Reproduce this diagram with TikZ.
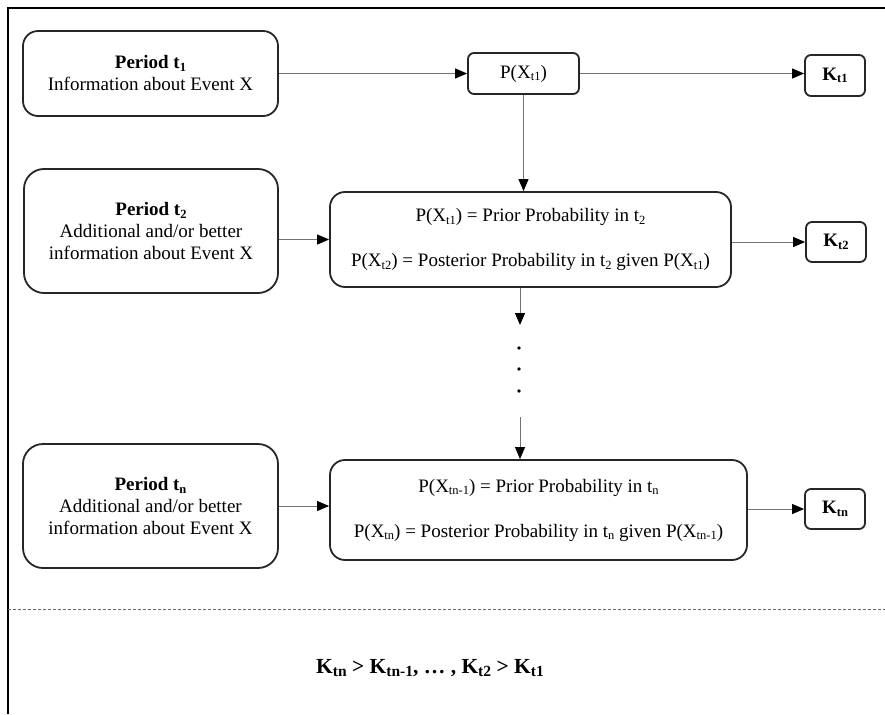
\documentclass[tikz,border=0pt]{standalone}
\usepackage{fontspec}
\setmainfont{Liberation Serif}
\usetikzlibrary{arrows.meta}
\newcommand{\sbs}[1]{\raisebox{-0.3ex}{\fontsize{12.5}{12.5}\selectfont #1}}
\newcommand{\sbb}[1]{\raisebox{-0.3ex}{\fontsize{15.5}{15.5}\selectfont #1}}
\begin{document}
\begin{tikzpicture}[x=1pt,y=-1pt,
  font=\fontsize{19}{22}\selectfont,
  box/.style={draw=black!85, line width=1.8pt, align=center, inner sep=0pt},
  bigbox/.style={box, rounded corners=15pt},
  smallbox/.style={box, rounded corners=6pt},
  arr/.style={draw=black!55, line width=1pt, -{Triangle[length=12pt,width=10pt,color=black]}},
  frame/.style={draw=black, line width=2.2pt},
  dot/.style={circle, fill=black, inner sep=0pt, minimum size=3.6pt}
]
\useasboundingbox (0,0) rectangle (885,714);
% frame
\draw[frame] (885,8) -- (8,8) -- (8,714);
\draw[black!60, line width=0.8pt, dash pattern=on 3pt off 2pt] (8,609) -- (885,609);

% left boxes
\node[bigbox, minimum width=255pt, minimum height=85pt] (A) at (150.5,73.5)
  {\textbf{Period t\sbs{1}}\\Information about Event X};
\node[bigbox, rounded corners=20pt, minimum width=254pt, minimum height=124pt] (B) at (151,231)
  {\textbf{Period t\sbs{2}}\\Additional and/or better\\information about Event X};
\node[bigbox, rounded corners=20pt, minimum width=255pt, minimum height=124pt] (E) at (150.5,506)
  {\textbf{Period t\sbs{n}}\\Additional and/or better\\information about Event X};

% middle boxes
\node[smallbox, minimum width=111pt, minimum height=41pt] (C) at (523.5,73.5) {P(X\sbs{t1})};
\node[bigbox, minimum width=401pt, minimum height=95pt] (D) at (530.5,239.5)
  {P(X\sbs{t1}) = Prior Probability in t\sbs{2}\\[23pt]P(X\sbs{t2}) = Posterior Probability in t\sbs{2} given P(X\sbs{t1})};
\node[bigbox, minimum width=417pt, minimum height=100pt] (F) at (538.5,510)
  {P(X\sbs{tn-1}) = Prior Probability in t\sbs{n}\\[23pt]P(X\sbs{tn}) = Posterior Probability in t\sbs{n} given P(X\sbs{tn-1})};

% K boxes
\node[smallbox, minimum width=60pt, minimum height=41pt] (K1) at (835,75.5) {\textbf{K\sbs{t1}}};
\node[smallbox, minimum width=60pt, minimum height=40pt] (K2) at (836,242) {\textbf{K\sbs{t2}}};
\node[smallbox, minimum width=60pt, minimum height=40pt] (Kn) at (835,509) {\textbf{K\sbs{tn}}};

% connectors
\draw[arr] (A.east) -- (A.east -| C.west);
\draw[arr] (C.east) -- (C.east -| K1.west);
\draw[arr] (C.south) -- (C.south |- D.north);
\draw[arr] (D.west -| B.east) -- (D.west);
\draw[arr] (D.east |- K2.west) -- (K2.west);

\coordinate (d1) at (520,325);
\coordinate (d2) at (520,417);
\draw[arr] (D.south -| d1) -- (d1);
\node[dot] (p1) at (519,348) {};
\node[dot] (p2) at (519,369) {};
\node[dot] (p3) at (519,391) {};
\draw[arr] (d2) -- (d2 |- F.north);

\draw[arr] (E.east) -- (E.east -| F.west);
\draw[arr] (F.east |- Kn.west) -- (Kn.west);

% result
\node[font=\fontsize{21.5}{24}\selectfont] (R) at (430,668)
  {\textbf{K\sbb{tn} > K\sbb{tn-1}, … , K\sbb{t2} > K\sbb{t1}}};
\end{tikzpicture}
\end{document}
